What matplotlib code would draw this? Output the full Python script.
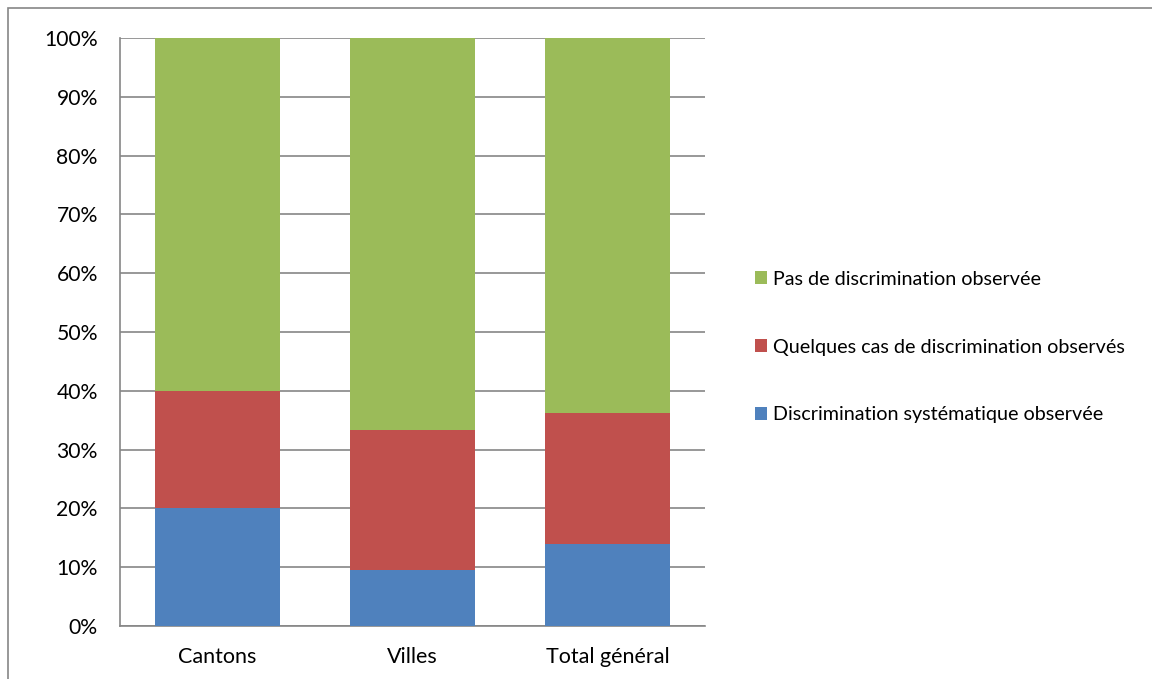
import matplotlib
matplotlib.use("Agg")
import matplotlib.pyplot as plt
from matplotlib.patches import Rectangle, Patch
import numpy as np

categories = ["Cantons", "Villes", "Total général"]
systematique = [20.0, 9.5, 13.9]
quelques = [20.0, 23.8, 22.3]
pas_de = [60.0, 66.7, 63.8]
series_labels = ["Discrimination systématique observée",
                 "Quelques cas de discrimination observés",
                 "Pas de discrimination observée"]
colors = ["#4F81BD", "#C0504D", "#9BBB59"]
yticks = list(range(0, 101, 10))

plt.rcParams['font.family'] = ['Lato', 'DejaVu Sans']

fig = plt.figure(figsize=(11.52, 6.79), dpi=100)
fig.patches.append(Rectangle((8/1152, -0.1), 1.2, 1 - 8/679 + 0.1,
                             transform=fig.transFigure, fill=False,
                             edgecolor="#868686", linewidth=1.2))
ax = fig.add_axes([120/1152, 1 - 626/679, 585/1152, 588/679])

x = np.arange(len(categories))
w = 0.64
bottom = np.zeros(len(categories))
for vals, c, lab in zip([systematique, quelques, pas_de], colors, series_labels):
    ax.bar(x, vals, w, bottom=bottom, color=c, label=lab, linewidth=0, zorder=3)
    bottom += np.array(vals)

ax.set_xlim(-0.5, 2.5)
ax.set_ylim(0, 100)
ax.set_yticks(yticks)
ax.set_yticklabels([f"{t}%" for t in yticks], fontsize=15.2)
ax.set_xticks(x)
ax.set_xticklabels(categories, fontsize=15.5)
ax.tick_params(axis='x', length=0, pad=15)
ax.tick_params(axis='y', length=0, pad=16)
ax.yaxis.grid(True, color="#868686", linewidth=1.2, zorder=0)
ax.set_axisbelow(True)
for s in ["top", "right"]:
    ax.spines[s].set_visible(False)
for s in ["left", "bottom"]:
    ax.spines[s].set_color("#868686")
    ax.spines[s].set_linewidth(1.2)

handles = [Patch(facecolor=c, edgecolor='none') for c in colors][::-1]
labels = series_labels[::-1]
fig.legend(handles, labels, loc='center left',
           bbox_to_anchor=(755/1152, 1 - 347/679), bbox_transform=fig.transFigure,
           frameon=False, fontsize=14.2, borderpad=0, borderaxespad=0,
           handlelength=0.6, handleheight=0.6, handletextpad=0.3,
           labelspacing=2.58)

fig.savefig("out.png", dpi=100)
